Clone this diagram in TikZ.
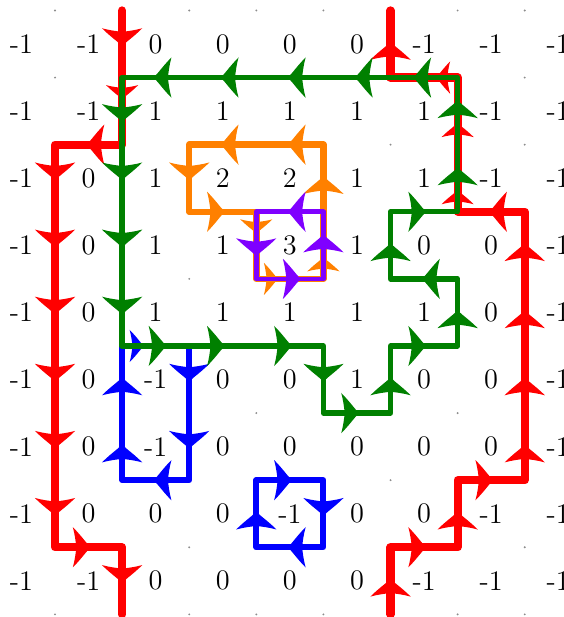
\documentclass[tikz,border=0pt]{standalone}
\usepackage{xcolor}
\usetikzlibrary{decorations.markings}
\definecolor{loopred}{HTML}{FF0000}
\definecolor{loopgreen}{HTML}{008000}
\definecolor{loopblue}{HTML}{0000FF}
\definecolor{looporange}{HTML}{FF8000}
\definecolor{looppurple}{HTML}{7F00FF}
\newcommand{\barb}[2]{\fill[#1, scale=#2] (0,0) .. controls (-0.04,0.01) and (-0.08,0.09) .. (-0.19,0.2)
  .. controls (-0.17,0.13) and (-0.16,0.05) .. (-0.155,0) .. controls (-0.16,-0.05) and (-0.17,-0.13) .. (-0.19,-0.2)
  .. controls (-0.08,-0.09) and (-0.04,-0.01) .. cycle;}
\tikzset{
  val/.style={font=\large, inner sep=0pt},
  griddot/.style={fill=black!45},
  strand/.style={line width=#1, line cap=round, line join=round},
  flow/.style={postaction={decorate}, decoration={markings,
    mark=between positions 0.55cm and -0.1cm step 1cm with {\barb{#1}{1.5}}}},
  lead/.style={postaction={decorate}, decoration={markings,
    mark=between positions 0.68cm and -0.1cm step 1cm with {\barb{#1}{1.5}}}},
  trail/.style={postaction={decorate}, decoration={markings,
    mark=between positions 0.34cm and -0.1cm step 1cm with {\barb{#1}{1.2}}}},
}

\begin{document}
\begin{tikzpicture}
  \useasboundingbox (-0.32,0.656) rectangle (8.085,-8.539);
  % dual grid
  \foreach \x in {0.5,1.5,...,7.5}
    \foreach \y in {0.5,-0.5,...,-8.5}
      \fill[griddot] (\x,\y) circle (0.45pt);
  % values
  \foreach \row [count=\j from 0] in {
      {-1,-1,0,0,0,0,-1,-1,-1},
      {-1,-1,1,1,1,1,1,-1,-1},
      {-1,0,1,2,2,1,1,-1,-1},
      {-1,0,1,1,3,1,0,0,-1},
      {-1,0,1,1,1,1,1,0,-1},
      {-1,0,-1,0,0,1,0,0,-1},
      {-1,0,-1,0,0,0,0,0,-1},
      {-1,0,0,0,-1,0,0,-1,-1},
      {-1,-1,0,0,0,0,-1,-1,-1}} {
    \foreach \v [count=\i from 0] in \row
      \node[val] (n-\i-\j) at (\i,-\j) {\v};
  }
  % red
  \draw[strand=3.5pt, loopred] (1.5,0.5) -- (1.5,-1.5) -- (0.5,-1.5) -- (0.5,-7.5) -- (1.5,-7.5) -- (1.5,-8.5);
  \path[flow=loopred] (1.5,0.5) -- (1.5,-0.5);
  \path[trail=loopred] (1.5,-0.5) -- (1.5,-1.5);
  \path[flow=loopred] (1.5,-1.5) -- (0.5,-1.5) -- (0.5,-7.5) -- (1.5,-7.5) -- (1.5,-8.5);
  \draw[strand=3.5pt, loopred] (5.5,-8.5) -- (5.5,-7.5) -- (6.5,-7.5) -- (6.5,-6.5) -- (7.5,-6.5)
    -- (7.5,-2.5) -- (6.5,-2.5) -- (6.5,-0.5) -- (5.5,-0.5) -- (5.5,0.5);
  \path[flow=loopred] (5.5,-8.5) -- (5.5,-7.5) -- (6.5,-7.5) -- (6.5,-6.5) -- (7.5,-6.5) -- (7.5,-2.5) -- (6.5,-2.5);
  \path[trail=loopred] (6.5,-2.5) -- (6.5,-0.5) -- (5.5,-0.5);
  \path[flow=loopred] (5.5,-0.5) -- (5.5,0.5);
  % blue
  \draw[strand=2.5pt, loopblue] (1.5,-4.5) rectangle (2.5,-6.5);
  \path[trail=loopblue] (1.5,-4.5) -- (2.5,-4.5);
  \path[flow=loopblue] (2.5,-4.5) -- (2.5,-6.5) -- (1.5,-6.5) -- (1.5,-4.5);
  \draw[strand=2.5pt, loopblue] (3.5,-6.5) rectangle (4.5,-7.5);
  \path[flow=loopblue] (3.5,-6.5) -- (4.5,-6.5) -- (4.5,-7.5) -- (3.5,-7.5) -- cycle;
  % orange
  \draw[strand=2.7pt, looporange] (2.5,-1.5) -- (2.5,-2.5) -- (3.5,-2.5) -- (3.5,-3.5) -- (4.5,-3.5) -- (4.5,-1.5) -- cycle;
  \path[flow=looporange] (2.5,-1.5) -- (2.5,-2.5) -- (3.5,-2.5);
  \path[trail=looporange] (3.5,-2.5) -- (3.5,-3.5) -- (4.5,-3.5) -- (4.5,-2.5);
  \path[flow=looporange] (4.5,-2.5) -- (4.5,-1.5) -- (2.5,-1.5);
  % green
  \draw[strand=2.3pt, loopgreen] (6.5,-0.5) -- (1.5,-0.5) -- (1.5,-4.5) -- (4.5,-4.5) -- (4.5,-5.5) -- (5.5,-5.5)
    -- (5.5,-4.5) -- (6.5,-4.5) -- (6.5,-3.5) -- (5.5,-3.5) -- (5.5,-2.5) -- (6.5,-2.5) -- cycle;
  \path[lead=loopgreen] (6.5,-0.5) -- (5.5,-0.5);
  \path[flow=loopgreen] (5.5,-0.5) -- (1.5,-0.5);
  \path[lead=loopgreen] (1.5,-0.5) -- (1.5,-1.5);
  \path[flow=loopgreen] (1.5,-1.5) -- (1.5,-4.5);
  \path[lead=loopgreen] (1.5,-4.5) -- (2.5,-4.5);
  \path[flow=loopgreen] (2.5,-4.5) -- (4.5,-4.5) -- (4.5,-5.5) -- (5.5,-5.5) -- (5.5,-4.5) -- (6.5,-4.5)
    -- (6.5,-3.5) -- (5.5,-3.5) -- (5.5,-2.5) -- (6.5,-2.5);
  \path[lead=loopgreen] (6.5,-2.5) -- (6.5,-0.5);
  % purple
  \draw[strand=2pt, looppurple] (4.5,-2.5) rectangle (3.5,-3.5);
  \path[flow=looppurple] (4.5,-2.5) -- (3.5,-2.5);
  \path[lead=looppurple] (3.5,-2.5) -- (3.5,-3.5) -- (4.5,-3.5) -- (4.5,-2.5);
\end{tikzpicture}
\end{document}
